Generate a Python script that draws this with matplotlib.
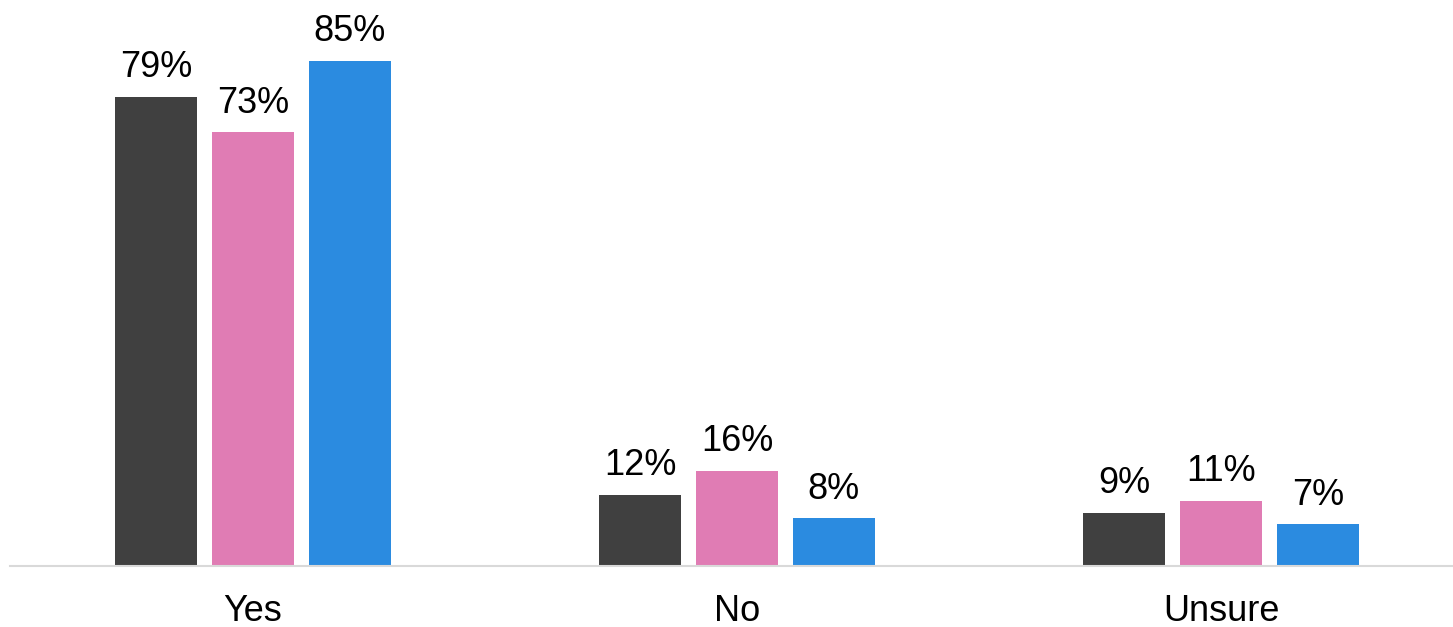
import matplotlib
matplotlib.use("Agg")
import matplotlib.pyplot as plt
import numpy as np

plt.rcParams['font.family'] = ['Liberation Sans', 'DejaVu Sans']

categories = ["Yes", "No", "Unsure"]
series_a = [79, 12, 9]
series_b = [73, 16, 11]
series_c = [85, 8, 7]
colors = ["#404040", "#E07CB4", "#2B8BE0"]

fig = plt.figure(figsize=(14.53, 6.27), dpi=100)
ax = fig.add_axes([10/1453, 61/627, 1 - 10/1453, 1 - 61/627])

x = np.arange(len(categories))
w = 0.17
offsets = [-0.2, 0.0, 0.2]
for vals, off, c in zip([series_a, series_b, series_c], offsets, colors):
    bars = ax.bar(x + off, vals, width=w, color=c)
    for b, v in zip(bars, vals):
        ax.text(b.get_x() + b.get_width()/2, v + 2.0, f"{v}%", ha="center", va="bottom",
                fontsize=26, color="#000000")

ax.set_xlim(-0.502, 2.479)
ax.set_ylim(0, 95.3)
ax.set_xticks(x)
ax.set_xticklabels(categories, fontsize=26)
ax.tick_params(axis='x', length=0, pad=20)
ax.set_yticks([])
for s in ["top", "right", "left"]:
    ax.spines[s].set_visible(False)
ax.spines["bottom"].set_color("#D9D9D9")
ax.spines["bottom"].set_linewidth(1.5)

fig.savefig("out.png", dpi=100)
